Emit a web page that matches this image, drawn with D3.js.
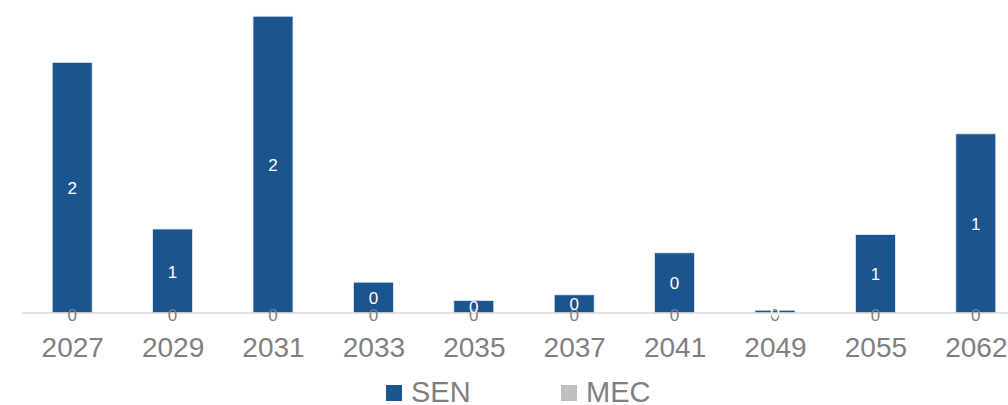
<!DOCTYPE html>
<html>
<head>
<meta charset="utf-8">
<script src="https://cdn.jsdelivr.net/npm/d3@7"></script>
<style>
  html, body { margin: 0; padding: 0; background: #fff; }
  svg { display: block; font-family: "Liberation Sans", Arial, sans-serif; }
</style>
</head>
<body>
<svg id="chart" width="1008" height="405"></svg>
<script>
const categories = ["2027", "2029", "2031", "2033", "2035", "2037", "2041", "2049", "2055", "2062"];
const senValues = [1.79, 0.60, 2.12, 0.22, 0.09, 0.13, 0.43, 0.02, 0.56, 1.28];
const mecValues = [0, 0, 0, 0, 0, 0, 0, 0, 0, 0];
const seriesNames = ["SEN", "MEC"];
const seriesColors = ["#1b558f", "#bfbfbf"];

const svg = d3.select("#chart");
const baseY = 313;

const x = d3.scalePoint().domain(categories).range([22, 1026]).padding(0.5);
const y = d3.scaleLinear().domain([0, 2.2]).range([baseY, 5]);
const barW = 40;
const fmt = d3.format(".0f");

// bars SEN
svg.append("g").selectAll("rect").data(categories).join("rect")
  .attr("x", d => x(d) - barW / 2)
  .attr("y", (d, i) => y(senValues[i]))
  .attr("width", barW)
  .attr("height", (d, i) => baseY - y(senValues[i]))
  .attr("fill", seriesColors[0])
  .attr("stroke", "#e8eef5")
  .attr("stroke-width", 0.8);

// bars MEC (zero height)
svg.append("g").selectAll("rect").data(categories).join("rect")
  .attr("x", d => x(d) - barW / 2)
  .attr("y", (d, i) => y(mecValues[i]))
  .attr("width", barW)
  .attr("height", (d, i) => baseY - y(mecValues[i]))
  .attr("fill", seriesColors[1]);

// axis
const axis = d3.axisBottom(x).tickSize(0).tickSizeOuter(0).tickPadding(24);
const gAxis = svg.append("g").attr("transform", `translate(0,${baseY})`).call(axis);
gAxis.select(".domain").attr("stroke", "#d9d9d9").attr("stroke-width", 1.5)
  .attr("d", "M22,0H1008");
gAxis.selectAll("text").attr("fill", "#7f7f7f").attr("font-size", 28)
  .attr("font-family", "Liberation Sans, Arial, sans-serif");

// MEC labels
svg.append("g").selectAll("text").data(categories).join("text")
  .attr("x", d => x(d))
  .attr("y", (d, i) => y(mecValues[i]) + 2)
  .attr("text-anchor", "middle")
  .attr("dominant-baseline", "central")
  .attr("font-size", 17)
  .attr("fill", "#7f7f7f")
  .text((d, i) => fmt(mecValues[i]));

// SEN labels
svg.append("g").selectAll("text").data(categories).join("text")
  .attr("x", d => x(d))
  .attr("y", (d, i) => (y(senValues[i]) + baseY) / 2 + 1)
  .attr("text-anchor", "middle")
  .attr("dominant-baseline", "central")
  .attr("font-size", 17)
  .attr("fill", "#ffffff")
  .text((d, i) => fmt(senValues[i]));

// legend
const legendX = [386, 561];
const lg = svg.append("g");
seriesNames.forEach((name, i) => {
  lg.append("rect").attr("x", legendX[i]).attr("y", 385).attr("width", 16).attr("height", 16)
    .attr("fill", seriesColors[i]);
  lg.append("text").attr("x", legendX[i] + 25).attr("y", 402)
    .attr("font-size", 29).attr("fill", "#7f7f7f").text(name);
});
</script>
</body>
</html>
